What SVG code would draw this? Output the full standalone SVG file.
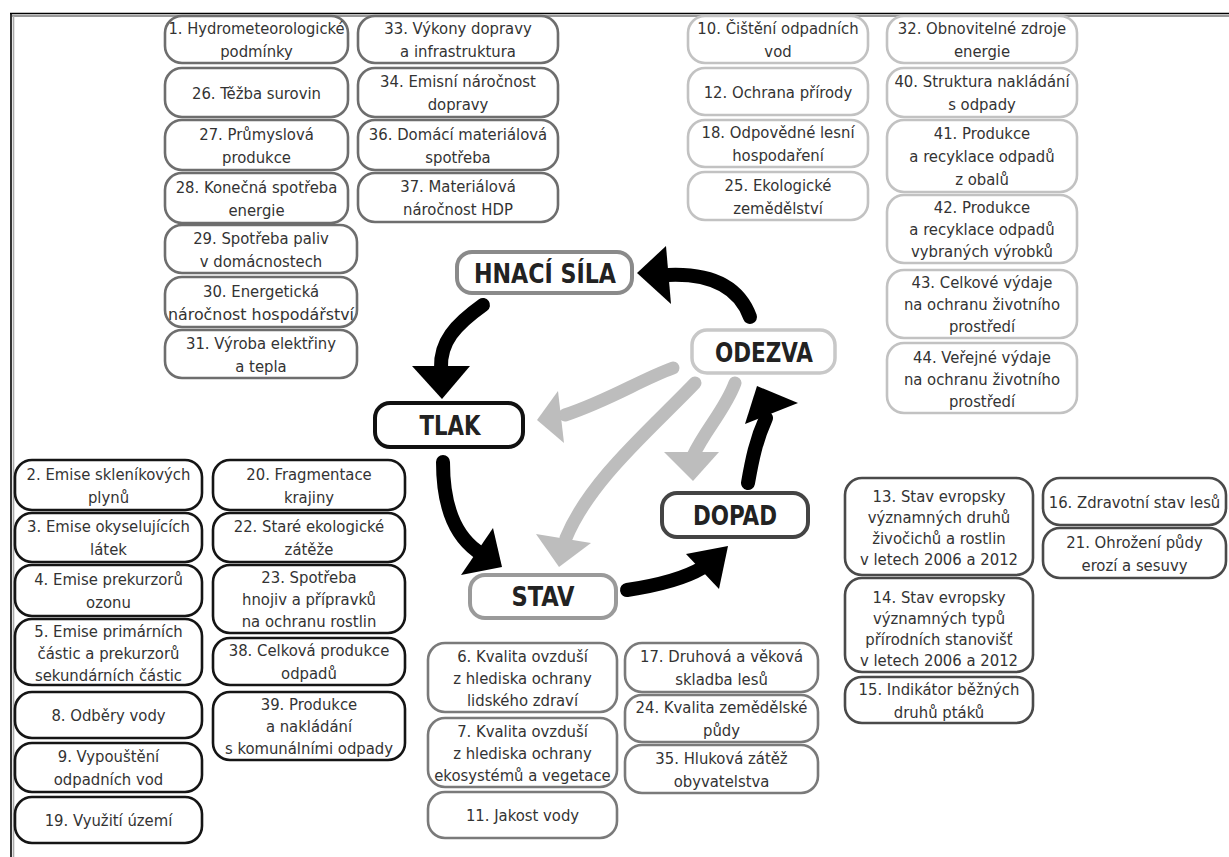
<svg xmlns="http://www.w3.org/2000/svg" width="1229" height="857" viewBox="0 0 1229 857">
<style>
.bx{fill:#fff;stroke-width:2.6}
.g1 .bx{stroke:#6e6e6e}
.g2 .bx{stroke:#c2c2c2}
.g3 .bx{stroke:#151515}
.g4 .bx{stroke:#7a7a7a}
.g5 .bx{stroke:#4a4a4a}
text{font-family:"DejaVu Sans Condensed","Liberation Sans",sans-serif;font-size:16.5px;fill:#333;text-anchor:middle}
.big{font-family:"DejaVu Sans Condensed","Liberation Sans",sans-serif;font-weight:bold;font-size:26px;fill:#222}
.blk{fill:none;stroke:#000;stroke-width:14;stroke-linecap:round}
.gry{fill:none;stroke:#bdbdbd;stroke-width:13;stroke-linecap:round}
.hb{fill:#000}
.hg{fill:#bdbdbd}
</style>
<rect x="0" y="0" width="1229" height="857" fill="#fff"/>
<g id="frame">
<line x1="10" y1="13.5" x2="1229" y2="13.5" stroke="#000" stroke-width="1.6"/>
<line x1="12" y1="16" x2="1229" y2="16" stroke="#999" stroke-width="2"/>
<line x1="11" y1="13" x2="11" y2="857" stroke="#000" stroke-width="1.6"/>
<line x1="13.5" y1="16" x2="13.5" y2="857" stroke="#aaa" stroke-width="1.6"/>
</g>

<g id="connectors">
<path class="blk" d="M483,305 C455,325 440,342 441,368"/>
<polygon class="hb" points="412,366 470,366 442,399"/>
<path class="blk" d="M750,317 C740,290 715,273 668,275"/>
<polygon class="hb" points="666,246 671,304 637,273"/>
<path class="blk" d="M443,462 C443,505 455,535 477,551"/>
<polygon class="hb" points="493,528 461,575 502,567"/>
<path class="blk" d="M627,590 C660,585 685,578 702,568"/>
<polygon class="hb" points="686,554 719,589 728,546"/>
<path class="blk" d="M748,483 C752,460 756,440 766,418"/>
<polygon class="hb" points="757,386 798,403 745,424"/>
<path class="gry" d="M673,368 C640,380 610,400 565,415"/>
<polygon class="hg" points="537,420 558,391 564,443"/>
<path class="gry" d="M695,383 C650,430 590,480 566,538"/>
<polygon class="hg" points="536,534 591,543 559,567"/>
<path class="gry" d="M735,383 C725,410 705,430 693,456"/>
<polygon class="hg" points="664,452 719,452 693,481"/>
</g>

<g id="hnaci_sila"><rect x="457" y="252" width="175" height="41" rx="15" fill="#fff" stroke="#8a8a8a" stroke-width="4"/><text class="big" x="545" y="283" textLength="142" lengthAdjust="spacingAndGlyphs">HNACÍ SÍLA</text></g>
<g id="odezva"><rect x="692" y="330" width="143" height="43" rx="15" fill="#fff" stroke="#c8c8c8" stroke-width="3.5"/><text class="big" x="764" y="362" textLength="98" lengthAdjust="spacingAndGlyphs">ODEZVA</text></g>
<g id="tlak"><rect x="375" y="403" width="148" height="44" rx="15" fill="#fff" stroke="#111" stroke-width="4"/><text class="big" x="450" y="435" textLength="61" lengthAdjust="spacingAndGlyphs">TLAK</text></g>
<g id="dopad"><rect x="662" y="493" width="146" height="44" rx="15" fill="#fff" stroke="#444" stroke-width="4"/><text class="big" x="735" y="525" textLength="84" lengthAdjust="spacingAndGlyphs">DOPAD</text></g>
<g id="stav"><rect x="470" y="575" width="146" height="43" rx="15" fill="#fff" stroke="#9a9a9a" stroke-width="4"/><text class="big" x="543" y="606" textLength="63" lengthAdjust="spacingAndGlyphs">STAV</text></g>

<g class="g1">
<g id="n1"><rect class="bx" x="165" y="16" width="183" height="47" rx="17"/><text x="256.5" y="34" textLength="176" lengthAdjust="spacingAndGlyphs">1. Hydrometeorologické</text><text x="256.5" y="57">podmínky</text></g>
<g id="n26"><rect class="bx" x="165" y="68" width="183" height="49" rx="17"/><text x="256.5" y="98.5">26. Těžba surovin</text></g>
<g id="n27"><rect class="bx" x="165" y="120" width="183" height="50" rx="17"/><text x="256.5" y="139.5">27. Průmyslová</text><text x="256.5" y="162.5">produkce</text></g>
<g id="n28"><rect class="bx" x="165" y="173" width="183" height="50" rx="17"/><text x="256.5" y="192.5">28. Konečná spotřeba</text><text x="256.5" y="215.5">energie</text></g>
<g id="n29"><rect class="bx" x="165" y="225" width="192" height="48" rx="17"/><text x="261" y="243.5">29. Spotřeba paliv</text><text x="261" y="266.5">v domácnostech</text></g>
<g id="n30"><rect class="bx" x="165" y="277" width="192" height="50" rx="17"/><text x="261" y="296.5">30. Energetická</text><text x="261" y="319.5" textLength="186" lengthAdjust="spacingAndGlyphs">náročnost hospodářství</text></g>
<g id="n31"><rect class="bx" x="165" y="330" width="192" height="48" rx="17"/><text x="261" y="348.5">31. Výroba elektřiny</text><text x="261" y="371.5">a tepla</text></g>
<g id="n33"><rect class="bx" x="358" y="16" width="200" height="47" rx="17"/><text x="458" y="34">33. Výkony dopravy</text><text x="458" y="57">a infrastruktura</text></g>
<g id="n34"><rect class="bx" x="358" y="68" width="200" height="49" rx="17"/><text x="458" y="87">34. Emisní náročnost</text><text x="458" y="110">dopravy</text></g>
<g id="n36"><rect class="bx" x="358" y="120" width="200" height="50" rx="17"/><text x="458" y="139.5">36. Domácí materiálová</text><text x="458" y="162.5">spotřeba</text></g>
<g id="n37"><rect class="bx" x="358" y="173" width="200" height="49" rx="17"/><text x="458" y="192">37. Materiálová</text><text x="458" y="215">náročnost HDP</text></g>
</g>

<g class="g2">
<g id="n10"><rect class="bx" x="688" y="16" width="180" height="47" rx="17"/><text x="778" y="34">10. Čištění odpadních</text><text x="778" y="57">vod</text></g>
<g id="n12"><rect class="bx" x="688" y="68" width="180" height="47" rx="17"/><text x="778" y="97.5">12. Ochrana přírody</text></g>
<g id="n18"><rect class="bx" x="688" y="120" width="180" height="47" rx="17"/><text x="778" y="138">18. Odpovědné lesní</text><text x="778" y="161">hospodaření</text></g>
<g id="n25"><rect class="bx" x="688" y="172" width="180" height="48" rx="17"/><text x="778" y="190.5">25. Ekologické</text><text x="778" y="213.5">zemědělství</text></g>
<g id="n32"><rect class="bx" x="887" y="16" width="190" height="47" rx="17"/><text x="982" y="34">32. Obnovitelné zdroje</text><text x="982" y="57">energie</text></g>
<g id="n40"><rect class="bx" x="887" y="68" width="190" height="49" rx="17"/><text x="982" y="87">40. Struktura nakládání</text><text x="982" y="110">s odpady</text></g>
<g id="n41"><rect class="bx" x="887" y="120" width="190" height="72" rx="17"/><text x="982" y="139">41. Produkce</text><text x="982" y="162">a recyklace odpadů</text><text x="982" y="185">z obalů</text></g>
<g id="n42"><rect class="bx" x="887" y="195" width="190" height="68" rx="17"/><text x="982" y="213">42. Produkce</text><text x="982" y="235">a recyklace odpadů</text><text x="982" y="257">vybraných výrobků</text></g>
<g id="n43"><rect class="bx" x="887" y="270" width="190" height="68" rx="17"/><text x="982" y="288">43. Celkové výdaje</text><text x="982" y="310">na ochranu životního</text><text x="982" y="332">prostředí</text></g>
<g id="n44"><rect class="bx" x="887" y="343" width="190" height="70" rx="17"/><text x="982" y="363">44. Veřejné výdaje</text><text x="982" y="385">na ochranu životního</text><text x="982" y="407">prostředí</text></g>
</g>

<g class="g3">
<g id="n2"><rect class="bx" x="15" y="460" width="187" height="50" rx="17"/><text x="108.5" y="479.5">2. Emise skleníkových</text><text x="108.5" y="502.5">plynů</text></g>
<g id="n3"><rect class="bx" x="15" y="513" width="187" height="49" rx="17"/><text x="108.5" y="532">3. Emise okyselujících</text><text x="108.5" y="555">látek</text></g>
<g id="n4"><rect class="bx" x="15" y="565" width="187" height="51" rx="17"/><text x="108.5" y="585">4. Emise prekurzorů</text><text x="108.5" y="608">ozonu</text></g>
<g id="n5"><rect class="bx" x="15" y="619" width="187" height="66" rx="17"/><text x="108.5" y="637">5. Emise primárních</text><text x="108.5" y="659">částic a prekurzorů</text><text x="108.5" y="681">sekundárních částic</text></g>
<g id="n8"><rect class="bx" x="15" y="692" width="187" height="46" rx="17"/><text x="108.5" y="721">8. Odběry vody</text></g>
<g id="n9"><rect class="bx" x="15" y="743" width="187" height="49" rx="17"/><text x="108.5" y="762">9. Vypouštění</text><text x="108.5" y="785">odpadních vod</text></g>
<g id="n19"><rect class="bx" x="15" y="797" width="187" height="46" rx="17"/><text x="108.5" y="826">19. Využití území</text></g>
<g id="n20"><rect class="bx" x="213" y="460" width="192" height="50" rx="17"/><text x="309" y="479.5">20. Fragmentace</text><text x="309" y="502.5">krajiny</text></g>
<g id="n22"><rect class="bx" x="213" y="513" width="192" height="49" rx="17"/><text x="309" y="532">22. Staré ekologické</text><text x="309" y="555">zátěže</text></g>
<g id="n23"><rect class="bx" x="213" y="565" width="192" height="68" rx="17"/><text x="309" y="583">23. Spotřeba</text><text x="309" y="605">hnojiv a přípravků</text><text x="309" y="627">na ochranu rostlin</text></g>
<g id="n38"><rect class="bx" x="213" y="638" width="192" height="47" rx="17"/><text x="309" y="656">38. Celková produkce</text><text x="309" y="679">odpadů</text></g>
<g id="n39"><rect class="bx" x="213" y="692" width="192" height="68" rx="17"/><text x="309" y="710">39. Produkce</text><text x="309" y="732">a nakládání</text><text x="309" y="754">s komunálními odpady</text></g>
</g>

<g class="g4">
<g id="n6"><rect class="bx" x="428" y="643" width="189" height="69" rx="17"/><text x="522.5" y="661.5">6. Kvalita ovzduší</text><text x="522.5" y="683.5">z hlediska ochrany</text><text x="522.5" y="705.5">lidského zdraví</text></g>
<g id="n7"><rect class="bx" x="428" y="718" width="189" height="69" rx="17"/><text x="522.5" y="736.5">7. Kvalita ovzduší</text><text x="522.5" y="758.5">z hlediska ochrany</text><text x="522.5" y="780.5">ekosystémů a vegetace</text></g>
<g id="n11"><rect class="bx" x="428" y="792" width="189" height="46" rx="17"/><text x="522.5" y="821">11. Jakost vody</text></g>
<g id="n17"><rect class="bx" x="625" y="643" width="193" height="49" rx="17"/><text x="721.5" y="662">17. Druhová a věková</text><text x="721.5" y="685">skladba lesů</text></g>
<g id="n24"><rect class="bx" x="625" y="695" width="193" height="47" rx="17"/><text x="721.5" y="713">24. Kvalita zemědělské</text><text x="721.5" y="736">půdy</text></g>
<g id="n35"><rect class="bx" x="625" y="745" width="193" height="48" rx="17"/><text x="721.5" y="763.5">35. Hluková zátěž</text><text x="721.5" y="786.5">obyvatelstva</text></g>
</g>

<g class="g5">
<g id="n13"><rect class="bx" x="845" y="478" width="188" height="97" rx="17"/><text x="939" y="502">13. Stav evropsky</text><text x="939" y="523">významných druhů</text><text x="939" y="544">živočichů a rostlin</text><text x="939" y="565">v letech 2006 a 2012</text></g>
<g id="n14"><rect class="bx" x="845" y="578" width="188" height="94" rx="17"/><text x="939" y="603">14. Stav evropsky</text><text x="939" y="624">významných typů</text><text x="939" y="645">přírodních stanovišť</text><text x="939" y="666">v letech 2006 a 2012</text></g>
<g id="n15"><rect class="bx" x="845" y="677" width="188" height="46" rx="17"/><text x="939" y="694.5">15. Indikátor běžných</text><text x="939" y="717.5">druhů ptáků</text></g>
<g id="n16"><rect class="bx" x="1043" y="478" width="183" height="47" rx="17"/><text x="1134.5" y="507.5">16. Zdravotní stav lesů</text></g>
<g id="n21"><rect class="bx" x="1043" y="528" width="183" height="50" rx="17"/><text x="1134.5" y="547.5">21. Ohrožení půdy</text><text x="1134.5" y="570.5">erozí a sesuvy</text></g>
</g>
</svg>
